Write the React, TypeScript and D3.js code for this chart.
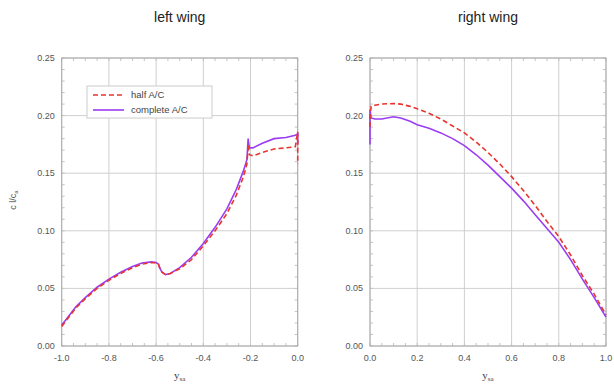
import * as d3 from "d3"

// span positions along each wing
const leftY = [-1.0, -0.97, -0.94, -0.9, -0.85, -0.8, -0.75, -0.7, -0.66, -0.62, -0.6, -0.59, -0.585, -0.575, -0.56, -0.54, -0.5, -0.45, -0.4, -0.35, -0.3, -0.26, -0.23, -0.215, -0.21, -0.205, -0.19, -0.15, -0.1, -0.05, -0.01, 0, 0]
const leftHalf = [0.017, 0.025, 0.033, 0.041, 0.05, 0.057, 0.063, 0.068, 0.071, 0.0725, 0.072, 0.071, 0.068, 0.064, 0.062, 0.063, 0.067, 0.075, 0.087, 0.1, 0.115, 0.131, 0.147, 0.158, 0.175, 0.166, 0.165, 0.168, 0.171, 0.172, 0.173, 0.186, 0.158]
const leftComplete = [0.018, 0.026, 0.034, 0.042, 0.051, 0.058, 0.064, 0.069, 0.072, 0.073, 0.0725, 0.071, 0.068, 0.064, 0.062, 0.063, 0.068, 0.077, 0.089, 0.103, 0.119, 0.136, 0.152, 0.162, 0.18, 0.172, 0.172, 0.176, 0.18, 0.181, 0.183, 0.184, 0.175]

const rightY = [0, 0, 0.005, 0.02, 0.05, 0.1, 0.13, 0.17, 0.2, 0.25, 0.3, 0.35, 0.4, 0.45, 0.5, 0.55, 0.6, 0.65, 0.7, 0.75, 0.8, 0.85, 0.9, 0.95, 1.0]
const rightHalf = [0.19, 0.2, 0.208, 0.209, 0.21, 0.2105, 0.21, 0.208, 0.206, 0.202, 0.197, 0.191, 0.185, 0.177, 0.168, 0.158, 0.147, 0.135, 0.122, 0.108, 0.095, 0.079, 0.061, 0.045, 0.027]
const rightComplete = [0.175, 0.205, 0.198, 0.197, 0.197, 0.199, 0.198, 0.195, 0.192, 0.189, 0.185, 0.18, 0.174, 0.166, 0.157, 0.147, 0.137, 0.126, 0.114, 0.102, 0.09, 0.075, 0.058, 0.042, 0.025]

const yTicks = [0, 0.05, 0.1, 0.15, 0.2, 0.25]
const leftTicks = [-1.0, -0.8, -0.6, -0.4, -0.2, 0.0]
const rightTicks = [0.0, 0.2, 0.4, 0.6, 0.8, 1.0]

const RED = "#e8352e"
const PURPLE = "#9b3df2"
const FONT = "Liberation Sans, Arial, sans-serif"

const W = 614
const H = 385
const top = 58
const bottom = 346

type PanelProps = {
  title: string
  x0: number
  x1: number
  domain: [number, number]
  xTicks: number[]
  ys: number[]
  half: number[]
  complete: number[]
  legend?: boolean
}

function Panel({ title, x0, x1, domain, xTicks, ys, half, complete, legend }: PanelProps) {
  const x = d3.scaleLinear().domain(domain).range([x0, x1])
  const y = d3.scaleLinear().domain([0, 0.25]).range([bottom, top])
  const line = d3
    .line<[number, number]>()
    .x((d) => x(d[0]))
    .y((d) => y(d[1]))
  const halfPts = ys.map((v, i) => [v, half[i]] as [number, number])
  const compPts = ys.map((v, i) => [v, complete[i]] as [number, number])
  const minorY = d3.range(0, 0.2501, 0.01)
  const minorX = d3.range(domain[0], domain[1] + 0.001, 0.05)

  return (
    <g fontFamily={FONT}>
      <text x={(x0 + x1) / 2} y={22} textAnchor="middle" fontSize={14} fill="#222">
        {title}
      </text>
      {yTicks.map((t) => (
        <line key={"gy" + t} x1={x0} x2={x1} y1={y(t)} y2={y(t)} stroke="#cfcfcf" strokeWidth={1} />
      ))}
      {xTicks.map((t) => (
        <line key={"gx" + t} x1={x(t)} x2={x(t)} y1={top} y2={bottom} stroke="#cfcfcf" strokeWidth={1} />
      ))}
      {minorY.map((t) => (
        <g key={"my" + t}>
          <line x1={x0} x2={x0 + 3} y1={y(t)} y2={y(t)} stroke="#c4c4c4" />
          <line x1={x1 - 3} x2={x1} y1={y(t)} y2={y(t)} stroke="#c4c4c4" />
        </g>
      ))}
      {minorX.map((t) => (
        <g key={"mx" + t}>
          <line x1={x(t)} x2={x(t)} y1={bottom} y2={bottom - 3} stroke="#c4c4c4" />
          <line x1={x(t)} x2={x(t)} y1={top} y2={top + 3} stroke="#c4c4c4" />
        </g>
      ))}
      <rect x={x0} y={top} width={x1 - x0} height={bottom - top} fill="none" stroke="#aaa" strokeWidth={1} />
      {yTicks.map((t) => (
        <text key={"ty" + t} x={x0 - 7} y={y(t) + 3} textAnchor="end" fontSize={9} fill="#555">
          {t.toFixed(2)}
        </text>
      ))}
      {xTicks.map((t) => (
        <text key={"tx" + t} x={x(t)} y={bottom + 15} textAnchor="middle" fontSize={9} fill="#555">
          {t.toFixed(1)}
        </text>
      ))}
      <text x={(x0 + x1) / 2} y={bottom + 33} textAnchor="middle" fontSize={11} fill="#444" fontFamily="Liberation Serif, serif">
        y<tspan fontSize={7} dy={2}>sa</tspan>
      </text>
      <path d={line(compPts) ?? ""} fill="none" stroke={PURPLE} strokeWidth={1.6} />
      <path d={line(halfPts) ?? ""} fill="none" stroke={RED} strokeWidth={1.6} strokeDasharray="5,3" />
      {legend && (
        <g>
          <rect x={87} y={86} width={125} height={32} fill="white" stroke="#ccc" />
          <line x1={93} x2={124} y1={95} y2={95} stroke={RED} strokeWidth={1.6} strokeDasharray="5,3" />
          <line x1={93} x2={124} y1={110} y2={110} stroke={PURPLE} strokeWidth={1.6} />
          <text x={131} y={98} fontSize={9.5} fill="#444">half A/C</text>
          <text x={131} y={113} fontSize={9.5} fill="#444">complete A/C</text>
        </g>
      )}
    </g>
  )
}

export default function App() {
  return (
    <svg width={W} height={H} style={{ display: "block", position: "absolute", left: 0, top: 0, background: "white" }}>
      <rect width={W} height={H} fill="white" />
      <Panel title="left wing" x0={61.7} x1={297.7} domain={[-1, 0]} xTicks={leftTicks} ys={leftY} half={leftHalf} complete={leftComplete} legend />
      <Panel title="right wing" x0={370} x1={606} domain={[0, 1]} xTicks={rightTicks} ys={rightY} half={rightHalf} complete={rightComplete} />
      <text transform="translate(16,200) rotate(-90)" textAnchor="middle" fontSize={9} fill="#555" fontFamily={FONT}>
        c l/c<tspan fontSize={6} dy={2}>a</tspan>
      </text>
    </svg>
  )
}
